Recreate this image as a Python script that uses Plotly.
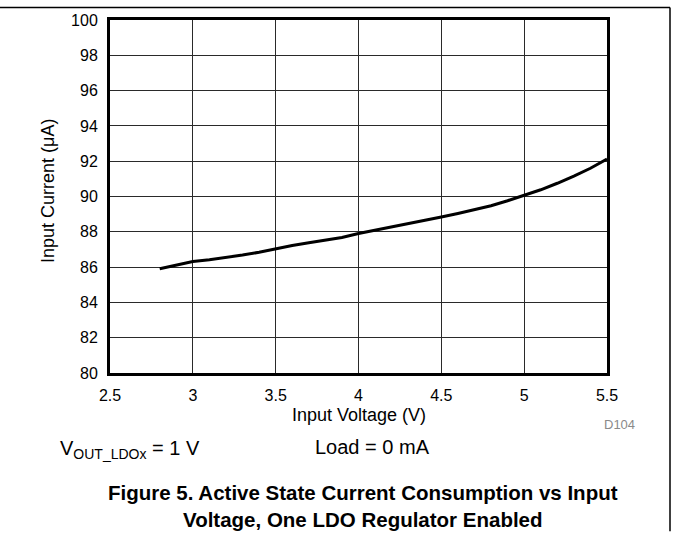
import plotly.graph_objects as go

# Data
input_voltage_v = [2.8, 2.9, 3.0, 3.1, 3.2, 3.3, 3.4, 3.5, 3.6, 3.7, 3.8, 3.9, 4.0,
                   4.1, 4.2, 4.3, 4.4, 4.5, 4.6, 4.7, 4.8, 4.9, 5.0, 5.1, 5.2, 5.3, 5.4, 5.5]
input_current_ua = [85.91, 86.12, 86.32, 86.42, 86.53, 86.68, 86.84, 87.05, 87.22, 87.38,
                    87.54, 87.68, 87.9, 88.08, 88.27, 88.45, 88.65, 88.84, 89.04, 89.25,
                    89.48, 89.76, 90.06, 90.38, 90.75, 91.15, 91.6, 92.12]
x_ticks = [2.5, 3, 3.5, 4, 4.5, 5, 5.5]
x_tick_labels = ["2.5", "3", "3.5", "4", "4.5", "5", "5.5"]
y_ticks = [80, 82, 84, 86, 88, 90, 92, 94, 96, 98, 100]
y_tick_labels = [str(v) for v in y_ticks]

W, H = 673, 533
L, R, T, B = 110, 66, 17.6, 159.5
plot_h = H - T - B

FONT = "Liberation Sans, Arial, sans-serif"

fig = go.Figure()
fig.add_trace(go.Scatter(
    x=input_voltage_v, y=input_current_ua, mode="lines",
    line=dict(color="black", width=3), showlegend=False, hoverinfo="skip"))

axis_common = dict(
    showline=True, linecolor="black", linewidth=3, mirror=True,
    showgrid=True, gridcolor="#2a2a2a", gridwidth=1,
    zeroline=False, ticks="", ticklabelstandoff=6,
    tickfont=dict(family=FONT, size=16, color="black"),
)
fig.update_xaxes(range=[2.5, 5.5], tickvals=x_ticks, ticktext=x_tick_labels, **axis_common)
fig.update_yaxes(range=[80, 100], tickvals=y_ticks, ticktext=y_tick_labels, **axis_common)
fig.update_xaxes(ticklabelstandoff=6)

def py(pix_y):
    return (H - B - pix_y) / plot_h

def px(pix_x):
    return (pix_x - L) / (W - L - R)

annotations = [
    dict(text="Input Voltage (V)", xref="paper", yref="paper", x=0.5, y=py(416),
         xanchor="center", yanchor="middle", showarrow=False,
         font=dict(family=FONT, size=18, color="black")),
    dict(text="Input Current (μA)", xref="paper", yref="paper", x=px(48), y=py(190),
         xanchor="center", yanchor="middle", showarrow=False, textangle=-90,
         font=dict(family=FONT, size=18, color="black")),
    dict(text="D104", xref="paper", yref="paper", x=px(619), y=py(425),
         xanchor="center", yanchor="middle", showarrow=False,
         font=dict(family=FONT, size=13, color="#8a8a8a")),
    dict(text="V<sub>OUT_LDOx</sub> = 1 V", xref="paper", yref="paper", x=px(58), y=py(451),
         xanchor="left", yanchor="middle", showarrow=False,
         font=dict(family=FONT, size=20, color="black")),
    dict(text="Load = 0 mA", xref="paper", yref="paper", x=px(313), y=py(448),
         xanchor="left", yanchor="middle", showarrow=False,
         font=dict(family=FONT, size=20, color="black")),
    dict(text="<b>Figure 5. Active State Current Consumption vs Input<br>Voltage, One LDO Regulator Enabled</b>",
         xref="paper", yref="paper", x=px(363), y=py(508),
         xanchor="center", yanchor="middle", showarrow=False, align="center",
         font=dict(family=FONT, size=20.5, color="black")),
]

shapes = [
    dict(type="line", xref="paper", yref="paper", x0=px(0), x1=px(670), y0=py(5), y1=py(5),
         line=dict(color="black", width=1.5)),
    dict(type="line", xref="paper", yref="paper", x0=px(670), x1=px(670), y0=py(5), y1=py(533),
         line=dict(color="black", width=1.5)),
]

fig.update_layout(
    width=W, height=H,
    margin=dict(l=L, r=R, t=T, b=B),
    paper_bgcolor="white", plot_bgcolor="white",
    annotations=annotations, shapes=shapes,
    showlegend=False,
)

fig.write_html("out.html", config={"displayModeBar": False},
               post_script="document.body.style.margin='0';document.body.style.overflow='hidden';")
